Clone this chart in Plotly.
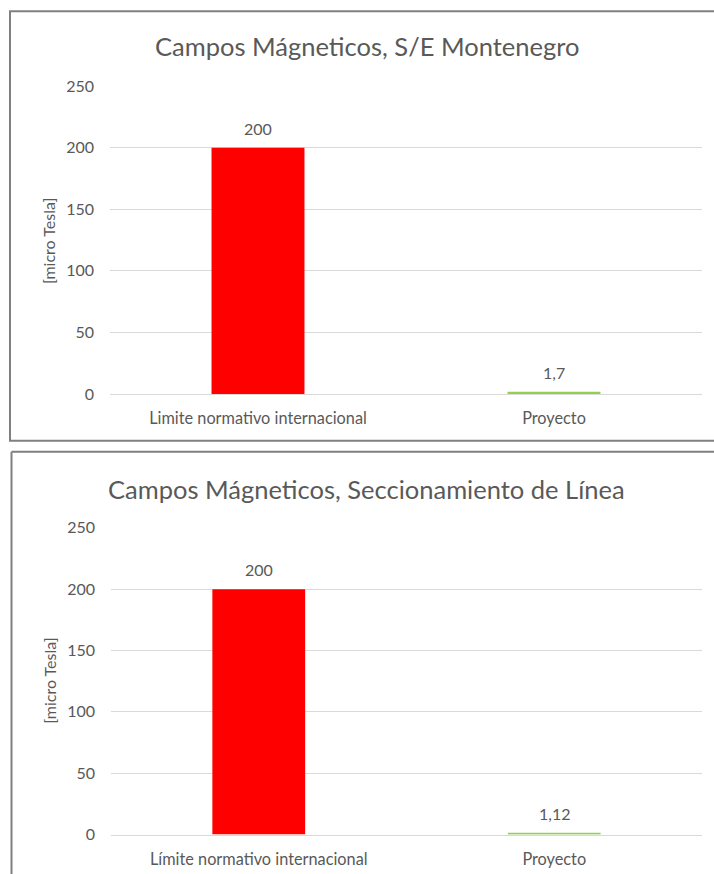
import plotly.graph_objects as go

categories = ["Limite normativo internacional", "Proyecto"]
categories_b = ["Límite normativo internacional", "Proyecto"]
values_top = [200, 1.7]
values_bottom = [200, 1.12]
labels_top = ["200", "1,7"]
labels_bottom = ["200", "1,12"]
title_top = "Campos Mágneticos, S/E Montenegro"
title_bottom = "Campos Mágneticos, Seccionamiento de Línea"
y_title = "[micro Tesla]"
y_ticks = [0, 50, 100, 150, 200, 250]

W, H = 714, 874
FONT = "Lato"
GRAY = "#595959"
bar_colors = ["#FF0000", "#92D050"]

# observed vertical mapping of the viewer: rendered ~= 8.8 + 0.979 * specified
def px(x):
    return x / W

def py(Y):
    y = (Y - 8.8) / 0.979
    return 1 - y / H

fig = go.Figure()

fig.add_trace(go.Bar(x=categories, y=values_top,
                     marker=dict(color=bar_colors, line=dict(width=0)),
                     xaxis="x", yaxis="y", showlegend=False, hoverinfo="x+y"))
fig.add_trace(go.Bar(x=categories_b, y=values_bottom,
                     marker=dict(color=bar_colors, line=dict(width=0)),
                     xaxis="x2", yaxis="y2", showlegend=False, hoverinfo="x+y"))

annotations = []
for cats, vals, labs, xr, yr in [(categories, values_top, labels_top, "x", "y"),
                                 (categories_b, values_bottom, labels_bottom, "x2", "y2")]:
    for c, v, l in zip(cats, vals, labs):
        annotations.append(dict(text=l, x=c, y=v, xref=xr, yref=yr, showarrow=False,
                                xanchor="center", yanchor="bottom", yshift=8,
                                font=dict(family=FONT, size=16, color=GRAY)))

axis_common_y = dict(range=[0, 250], tickvals=y_ticks, showgrid=True, gridcolor="#D9D9D9",
                     gridwidth=1, zeroline=False, showline=False, ticks="",
                     tickfont=dict(family=FONT, size=16, color=GRAY), ticklabelstandoff=15)
axis_common_x = dict(showgrid=False, showline=True, linecolor="#D9D9D9", linewidth=1, ticks="",
                     tickfont=dict(family=FONT, size=16.3, color=GRAY), ticklabelstandoff=10)

annotations += [
    dict(text=title_top, xref="paper", yref="paper", x=px(367), y=py(45), showarrow=False,
         xanchor="center", yanchor="middle", font=dict(family=FONT, size=25.5, color=GRAY)),
    dict(text=title_bottom, xref="paper", yref="paper", x=px(367), y=py(488), showarrow=False,
         xanchor="center", yanchor="middle", font=dict(family=FONT, size=25.5, color=GRAY)),
    dict(text=y_title, xref="paper", yref="paper", x=px(48), y=py(240), showarrow=False, textangle=-90,
         xanchor="center", yanchor="middle", font=dict(family=FONT, size=16, color=GRAY)),
    dict(text=y_title, xref="paper", yref="paper", x=px(50), y=py(680), showarrow=False, textangle=-90,
         xanchor="center", yanchor="middle", font=dict(family=FONT, size=16, color=GRAY)),
]

FRAME = dict(color="#808080", width=2)
fig.update_layout(
    width=W, height=H, margin=dict(l=0, r=0, t=0, b=0),
    paper_bgcolor="white", plot_bgcolor="white",
    bargap=0.686,
    xaxis=dict(domain=[px(110), px(702)], anchor="y", **axis_common_x),
    yaxis=dict(domain=[py(393), py(85)], anchor="x", **axis_common_y),
    xaxis2=dict(domain=[px(111), px(702)], anchor="y2", **axis_common_x),
    yaxis2=dict(domain=[py(834), py(527)], anchor="x2", **axis_common_y),
    shapes=[
        dict(type="rect", xref="paper", yref="paper", x0=px(10), x1=px(716), y0=py(440), y1=py(10),
             line=FRAME, fillcolor="rgba(0,0,0,0)"),
        dict(type="line", xref="paper", yref="paper", x0=px(11.5), x1=px(716), y0=py(451), y1=py(451),
             line=FRAME),
        dict(type="line", xref="paper", yref="paper", x0=px(11.5), x1=px(11.5), y0=py(451), y1=-0.05,
             line=FRAME),
    ],
    annotations=annotations,
)

fig.write_html("out.html")
